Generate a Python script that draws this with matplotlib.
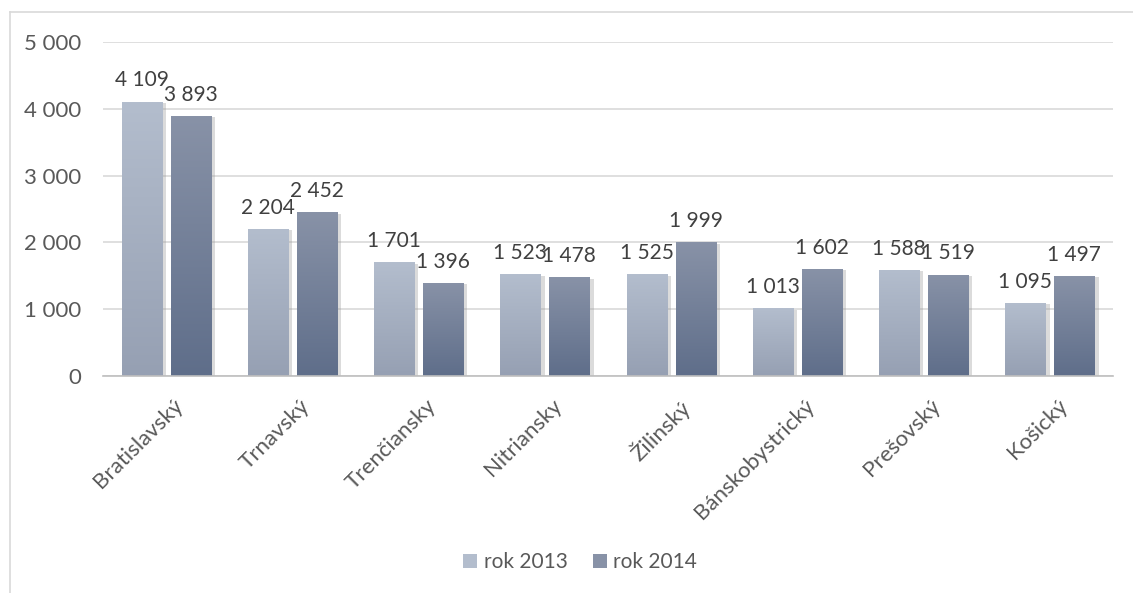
import numpy as np
import matplotlib
matplotlib.use("Agg")
import matplotlib.pyplot as plt
from matplotlib.lines import Line2D
from matplotlib.patches import Patch
from matplotlib.transforms import ScaledTranslation
import matplotlib.patheffects as pe

regions = ["Bratislavský", "Trnavský", "Trenčiansky", "Nitriansky",
           "Žilinský", "Bánskobystrický", "Prešovský", "Košický"]
rok_2013 = [4109, 2204, 1701, 1523, 1525, 1013, 1588, 1095]
rok_2014 = [3893, 2452, 1396, 1478, 1999, 1602, 1519, 1497]
series_names = ["rok 2013", "rok 2014"]

# gradient (bottom, top) per series
grad_2013 = ("#96a0b3", "#b3bdcd")
grad_2014 = ("#5f6e8a", "#8892a7")

plt.rcParams["font.family"] = ["Lato", "DejaVu Sans"]
FS = 16

def fmt(v):
    return f"{v:,}".replace(",", " ")

def hex2rgb(h):
    h = h.lstrip("#")
    return np.array([int(h[i:i + 2], 16) / 255 for i in (0, 2, 4)])

def gradient_fill(ax, bars, colors):
    lo, hi = hex2rgb(colors[0]), hex2rgb(colors[1])
    t = np.linspace(0, 1, 64)[:, None, None]
    img = lo * (1 - t) + hi * t
    for b in bars:
        x0, w, h = b.get_x(), b.get_width(), b.get_height()
        im = ax.imshow(img, extent=[x0, x0 + w, 0, h], origin="lower",
                       aspect="auto", zorder=3, interpolation="bilinear")
        im.set_clip_path(b)

fig = plt.figure(figsize=(11.33, 5.93), dpi=100)
ax = fig.add_axes([103 / 1133, 1 - 376 / 593, 1010 / 1133, 334 / 593])

x = np.arange(len(regions))
w = 0.317
off = 0.194
shadow = [pe.SimplePatchShadow(offset=(3, -1), shadow_rgbFace="#999999", alpha=0.35), pe.Normal()]
b1 = ax.bar(x - off, rok_2013, w, color=grad_2013[1], zorder=3, path_effects=shadow)
b2 = ax.bar(x + off, rok_2014, w, color=grad_2014[1], zorder=3, path_effects=shadow)
gradient_fill(ax, b1, grad_2013)
gradient_fill(ax, b2, grad_2014)

ax.bar_label(b1, labels=[fmt(v) for v in rok_2013], padding=8, fontsize=15, color="#404040")
ax.bar_label(b2, labels=[fmt(v) for v in rok_2014], padding=8, fontsize=15, color="#404040")

ax.set_xlim(-0.5, len(regions) - 0.5)
ax.set_ylim(0, 5000)
ticks = np.arange(0, 5001, 1000)
ax.set_yticks(ticks)
ax.set_yticklabels([fmt(t) for t in ticks])
ax.yaxis.grid(True, color="#d9d9d9", linewidth=1.2)
ax.set_axisbelow(True)
for s in ["top", "right", "left"]:
    ax.spines[s].set_visible(False)
ax.spines["bottom"].set_color("#bfbfbf")
ax.spines["bottom"].set_linewidth(1.2)
ax.spines["bottom"].set_zorder(4)
ax.tick_params(axis="both", length=0, labelsize=FS, labelcolor="#595959")
ax.tick_params(axis="y", pad=16)
ax.set_xticks(x)
ax.set_xticklabels(regions, rotation=45, ha="right", va="top", rotation_mode="anchor")
ax.tick_params(axis="x", pad=14)
shift = ScaledTranslation(0.07, 0, fig.dpi_scale_trans)
for lab in ax.get_xticklabels():
    lab.set_transform(lab.get_transform() + shift)

handles = [Patch(facecolor=grad_2013[1], edgecolor="none"),
           Patch(facecolor=grad_2014[1], edgecolor="none")]
fig.legend(handles, series_names, loc="center", bbox_to_anchor=(0.512, 0.052),
           ncol=2, frameon=False, fontsize=15, handlelength=0.7, handleheight=0.7,
           handletextpad=0.3, columnspacing=1.2, labelcolor="#595959")

# outer chart border (only left and top visible)
fig.add_artist(Line2D([9.5 / 1133, 9.5 / 1133], [0, 1 - 11.5 / 593], color="#d9d9d9", lw=1.2))
fig.add_artist(Line2D([9.5 / 1133, 1], [1 - 11.5 / 593, 1 - 11.5 / 593], color="#d9d9d9", lw=1.2))

fig.savefig("out.png", dpi=100)
